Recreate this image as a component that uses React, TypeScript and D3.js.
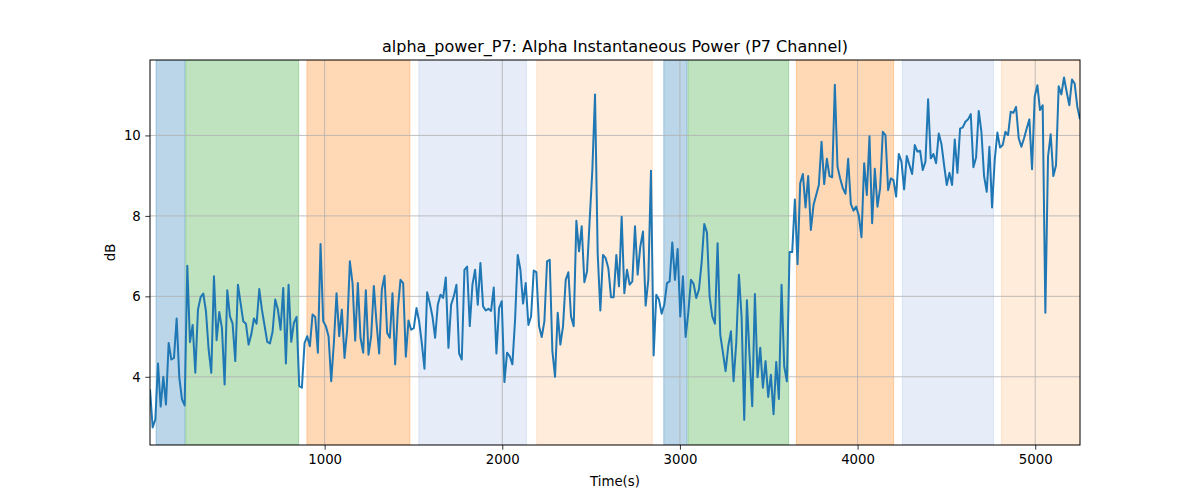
import { useEffect, useRef } from "react"
import * as d3 from "d3"

// sampling grid of the recording
const T0 = 17
const DT = 15

const power: number[] = [
  3.69, 2.74, 2.94, 4.33, 3.26, 4.0, 3.31, 4.84, 4.43, 4.47,
  5.45, 3.98, 3.44, 3.29, 6.76, 4.86, 5.29, 4.1, 5.67, 5.98,
  6.07, 5.63, 4.68, 4.1, 6.5, 4.91, 5.61, 5.21, 3.81, 6.15,
  5.5, 5.32, 4.39, 6.29, 5.83, 5.38, 5.32, 4.8, 5.05, 5.45,
  5.32, 6.18, 5.67, 5.27, 4.87, 4.83, 5.12, 5.92, 5.67, 5.17,
  6.21, 4.33, 6.29, 4.87, 5.34, 5.49, 3.77, 3.73, 4.84, 5.01,
  4.76, 5.55, 5.49, 4.6, 7.3, 5.38, 5.26, 5.01, 3.89, 4.84,
  6.08, 5.01,
  5.67, 4.47, 5.17, 6.87, 6.33, 4.9, 6.33, 4.97, 4.6, 6.15,
  4.55, 5.01, 6.26, 5.34, 4.58, 6.17, 6.51, 5.09, 4.97, 6.08,
  4.31, 5.67, 6.41, 6.33, 4.5, 5.4, 5.17, 5.21, 5.71, 5.38,
  4.84, 4.2, 6.1, 5.83, 5.5, 4.97, 5.79, 6.04, 5.96, 6.47,
  4.72, 5.79, 6.0, 6.29, 4.58, 4.43, 6.66, 6.74, 5.26, 6.29,
  6.66, 5.79, 6.83, 5.75, 5.65, 5.69, 5.64, 6.22, 4.58, 5.71,
  5.88, 3.87, 4.6, 4.51, 4.31, 5.42, 7.03,
  6.66, 5.82, 6.33, 5.29, 5.5, 6.64, 6.6, 5.26, 4.99, 5.38,
  6.87, 6.91, 4.64, 4.0, 5.59, 4.8, 5.26, 6.41, 6.6, 5.5,
  5.26, 7.88, 7.12, 7.74, 6.35, 6.62, 7.9, 9.14, 11.02, 7.07,
  5.65, 7.03, 6.95, 6.7, 5.98, 5.98, 7.03, 6.25, 7.98, 6.08,
  6.66, 6.29, 6.37, 7.74, 6.54, 7.24, 7.61, 5.77, 6.41, 9.12,
  4.53, 6.04, 5.92, 5.57, 5.79, 6.33, 6.37, 7.34, 6.41, 7.18,
  5.5, 6.5, 4.99, 5.59, 6.41, 6.31, 5.96, 6.17,
  6.83, 7.8, 7.59, 6.0, 5.5, 5.32, 7.32, 5.05, 4.6, 4.14,
  4.76, 5.13, 3.89, 4.84, 6.54, 5.5, 2.93, 5.9, 4.51, 3.27,
  6.06, 3.99, 4.72, 3.73, 4.39, 3.5, 4.05, 3.07, 4.37, 3.45,
  6.29, 4.26, 3.89, 7.1, 7.1, 8.41, 6.8, 8.81, 9.04, 8.21,
  8.99, 7.65, 8.27, 8.52, 8.77, 9.84, 8.79, 9.42, 8.99, 8.96,
  11.26, 9.22, 8.93, 8.69, 8.55, 9.42, 8.3, 8.13, 8.23, 8.0,
  7.47, 9.31, 8.52, 9.98, 7.82, 9.17, 8.23,
  8.69, 10.09, 10.01, 8.64, 8.93, 8.89, 8.48, 9.54, 9.35, 8.66,
  9.49, 9.26, 9.04, 9.76, 9.6, 9.62, 9.14, 9.35, 10.9, 9.43,
  9.54, 9.31, 10.05, 9.79, 9.26, 8.77, 9.07, 8.77, 9.9, 9.07,
  10.17, 10.2, 10.34, 10.4, 10.53, 9.21, 9.45, 10.61, 10.09, 8.99,
  8.6, 9.72, 8.21, 9.39, 10.07, 9.7, 9.76, 10.09, 10.01, 10.59,
  10.56, 10.71, 9.93, 9.72, 9.93, 10.17, 10.4, 9.16, 10.96, 11.25,
  10.63, 10.75, 5.59, 9.47, 10.03, 8.99, 9.26, 11.22, 11.02, 11.44,
  11.08, 10.75, 11.39, 11.29, 10.71, 10.4,
]

// shaded phases (seconds)
const spanStart = [51, 218, 900, 1530, 2194, 2909, 3045, 3655, 4252, 4810]
const spanEnd = [214, 854, 1480, 2136, 2845, 3040, 3612, 4203, 4765, 5400]
const spanColor = ["#1f77b4", "#2ca02c", "#ff7f0e", "#3f6fc8", "#ff7f0e", "#1f77b4", "#2ca02c", "#ff7f0e", "#3f6fc8", "#ff7f0e"]
const spanAlpha = [0.3, 0.3, 0.3, 0.13, 0.15, 0.3, 0.3, 0.3, 0.13, 0.15]

const xTicks = [1000, 2000, 3000, 4000, 5000]
const yTicks = [4, 6, 8, 10]

export default function App() {
  const svgRef = useRef<SVGSVGElement | null>(null)

  useEffect(() => {
    if (!svgRef.current) return

    const width = 1200
    const height = 500
    const margin = { top: 60, right: 120, bottom: 55, left: 150 }
    const font = "DejaVu Sans, sans-serif"

    const svg = d3.select(svgRef.current).attr("width", width).attr("height", height)
    svg.selectAll("*").remove()

    const pts = power.map((v, i) => ({ t: T0 + i * DT, v }))
    const [lo, hi] = d3.extent(pts, d => d.v) as [number, number]
    const pad = (hi - lo) * 0.05

    const x = d3
      .scaleLinear()
      .domain([pts[0].t, pts[pts.length - 1].t])
      .range([margin.left, width - margin.right])
    const y = d3
      .scaleLinear()
      .domain([lo - pad, hi + pad])
      .range([height - margin.bottom, margin.top])

    svg.append("defs").append("clipPath").attr("id", "plot")
      .append("rect")
      .attr("x", margin.left).attr("y", margin.top)
      .attr("width", width - margin.left - margin.right)
      .attr("height", height - margin.top - margin.bottom)

    const plot = svg.append("g").attr("clip-path", "url(#plot)")

    // phase spans
    plot.selectAll("rect.span")
      .data(spanStart)
      .join("rect")
      .attr("x", (d) => x(d))
      .attr("y", margin.top)
      .attr("width", (d, i) => x(spanEnd[i]) - x(d))
      .attr("height", height - margin.top - margin.bottom)
      .attr("fill", (_, i) => spanColor[i])
      .attr("fill-opacity", (_, i) => spanAlpha[i])
      .attr("stroke", (_, i) => spanColor[i])
      .attr("stroke-opacity", (_, i) => spanAlpha[i])
      .attr("stroke-width", 1)

    // grid
    plot.selectAll("line.gx")
      .data(xTicks)
      .join("line")
      .attr("x1", d => x(d)).attr("x2", d => x(d))
      .attr("y1", margin.top).attr("y2", height - margin.bottom)
      .attr("stroke", "#b0b0b0").attr("stroke-width", 0.8)
    plot.selectAll("line.gy")
      .data(yTicks)
      .join("line")
      .attr("x1", margin.left).attr("x2", width - margin.right)
      .attr("y1", d => y(d)).attr("y2", d => y(d))
      .attr("stroke", "#b0b0b0").attr("stroke-width", 0.8)

    // signal
    const line = d3.line<{ t: number; v: number }>().x(d => x(d.t)).y(d => y(d.v))
    plot.append("path")
      .datum(pts)
      .attr("fill", "none")
      .attr("stroke", "#1f77b4")
      .attr("stroke-width", 2)
      .attr("stroke-linejoin", "round")
      .attr("d", line)

    // frame
    svg.append("rect")
      .attr("x", margin.left).attr("y", margin.top)
      .attr("width", width - margin.left - margin.right)
      .attr("height", height - margin.top - margin.bottom)
      .attr("fill", "none").attr("stroke", "#000").attr("stroke-width", 1)

    const xAxis = svg.append("g")
      .attr("transform", `translate(0, ${height - margin.bottom})`)
      .call(d3.axisBottom(x).tickValues(xTicks).tickSize(4.7).tickPadding(4.5).tickFormat(d3.format("d")))
    const yAxis = svg.append("g")
      .attr("transform", `translate(${margin.left}, 0)`)
      .call(d3.axisLeft(y).tickValues(yTicks).tickSize(4.7).tickPadding(4.5).tickFormat(d3.format("d")))

    for (const ax of [xAxis, yAxis]) {
      ax.select(".domain").remove()
      ax.selectAll("text").attr("font-family", font).attr("font-size", 13.3).attr("fill", "#000")
      ax.selectAll("line").attr("stroke", "#000").attr("stroke-width", 0.8)
    }

    svg.append("text")
      .attr("x", (margin.left + width - margin.right) / 2)
      .attr("y", 52)
      .attr("text-anchor", "middle")
      .attr("font-family", font)
      .attr("font-size", 16)
      .text("alpha_power_P7: Alpha Instantaneous Power (P7 Channel)")

    svg.append("text")
      .attr("x", (margin.left + width - margin.right) / 2)
      .attr("y", 486)
      .attr("text-anchor", "middle")
      .attr("font-family", font)
      .attr("font-size", 13.3)
      .text("Time(s)")

    svg.append("text")
      .attr("transform", `translate(115, ${(margin.top + height - margin.bottom) / 2}) rotate(-90)`)
      .attr("text-anchor", "middle")
      .attr("font-family", font)
      .attr("font-size", 13.3)
      .text("dB")
  }, [])

  return (
    <div style={{ margin: -8 }}>
      <svg ref={svgRef} style={{ display: "block" }} />
    </div>
  )
}
